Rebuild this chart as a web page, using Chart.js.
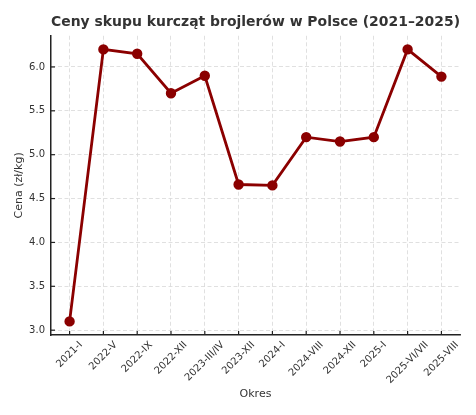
<!DOCTYPE html>
<html>
<head>
<meta charset="utf-8">
<script src="https://cdn.jsdelivr.net/npm/chart.js@4.4.1/dist/chart.umd.min.js"></script>
<style>
  html, body { margin: 0; padding: 0; background: #fff; }
  #wrap { width: 476px; height: 415px; }
</style>
</head>
<body>
<div id="wrap"><canvas id="priceChart"></canvas></div>
<script>
const periods = ['2021-I', '2022-V', '2022-IX', '2022-XII', '2023-III/IV', '2023-XII',
  '2024-I', '2024-VIII', '2024-XII', '2025-I', '2025-VI/VII', '2025-VIII'];
const prices = [3.10, 6.20, 6.15, 5.70, 5.90, 4.66, 4.65, 5.20, 5.15, 5.20, 6.20, 5.89];
const yTicks = [3.0, 3.5, 4.0, 4.5, 5.0, 5.5, 6.0];

const textColor = '#333333';
const font = 'DejaVu Sans';

// matplotlib style: labels rotated 45 and centered under the tick, small inward tick marks
const mplTicks = {
  id: 'mplTicks',
  afterDraw(chart) {
    const ctx = chart.ctx;
    const x = chart.scales.x;
    const y = chart.scales.y;
    const area = chart.chartArea;
    ctx.save();
    ctx.strokeStyle = '#222';
    ctx.lineWidth = 1.2;
    x.ticks.forEach(t => {
      const px = x.getPixelForValue(t.value);
      ctx.beginPath();
      ctx.moveTo(px, area.bottom);
      ctx.lineTo(px, area.bottom - 4);
      ctx.stroke();
    });
    y.ticks.forEach(t => {
      const py = y.getPixelForValue(t.value);
      ctx.beginPath();
      ctx.moveTo(area.left, py);
      ctx.lineTo(area.left + 4, py);
      ctx.stroke();
    });
    ctx.font = '10px "' + font + '"';
    ctx.fillStyle = textColor;
    ctx.textAlign = 'center';
    ctx.textBaseline = 'middle';
    const h = 9.5;
    periods.forEach((label, i) => {
      const px = x.getPixelForValue(i);
      const w = ctx.measureText(label).width;
      const half = (w + h) / (2 * Math.SQRT2);
      ctx.save();
      ctx.translate(px, area.bottom + 5 + half);
      ctx.rotate(-Math.PI / 4);
      ctx.fillText(label, 0, 0);
      ctx.restore();
    });
    ctx.restore();
  }
};

new Chart(document.getElementById('priceChart').getContext('2d'), {
  type: 'line',
  data: {
    datasets: [{
      label: 'Cena',
      data: prices.map((v, i) => ({ x: i, y: v })),
      borderColor: '#8b0000',
      backgroundColor: '#8b0000',
      borderWidth: 2.8,
      pointRadius: 3.8,
      pointHoverRadius: 3.8,
      tension: 0,
      fill: false
    }]
  },
  options: {
    responsive: true,
    maintainAspectRatio: false,
    animation: false,
    layout: { padding: { left: 0, right: 16, top: 0, bottom: 0 } },
    plugins: {
      legend: { display: false },
      tooltip: { enabled: false },
      title: {
        display: true,
        fullSize: false,
        text: 'Ceny skupu kurcząt brojlerów w Polsce (2021–2025)',
        color: textColor,
        font: { family: font, size: 14, weight: 'bold' },
        padding: { top: 14, bottom: 5 }
      }
    },
    scales: {
      x: {
        type: 'linear',
        min: -0.55,
        max: 11.55,
        afterBuildTicks: scale => { scale.ticks = periods.map((p, i) => ({ value: i })); },
        afterFit: scale => { scale.height = 80; },
        ticks: { display: false },
        grid: { color: '#d8d8d8', lineWidth: 0.8, drawTicks: false },
        border: { display: true, color: '#222', width: 1.5, dash: [4, 2.5] },
        title: {
          display: true,
          text: 'Okres',
          color: textColor,
          font: { family: font, size: 11 },
          padding: { top: 0, bottom: 14 }
        }
      },
      y: {
        min: 2.945,
        max: 6.355,
        afterBuildTicks: scale => { scale.ticks = yTicks.map(v => ({ value: v })); },
        afterFit: scale => { scale.width = 51; },
        ticks: {
          color: textColor,
          font: { family: font, size: 10 },
          padding: 6,
          callback: v => v.toFixed(1)
        },
        grid: { color: '#d8d8d8', lineWidth: 0.8, drawTicks: false },
        border: { display: true, color: '#222', width: 1.5, dash: [4, 2.5] },
        title: {
          display: true,
          text: 'Cena (zł/kg)',
          color: textColor,
          font: { family: font, size: 11 },
          padding: { top: 13, bottom: 0 }
        }
      }
    }
  },
  plugins: [mplTicks]
});
</script>
</body>
</html>
